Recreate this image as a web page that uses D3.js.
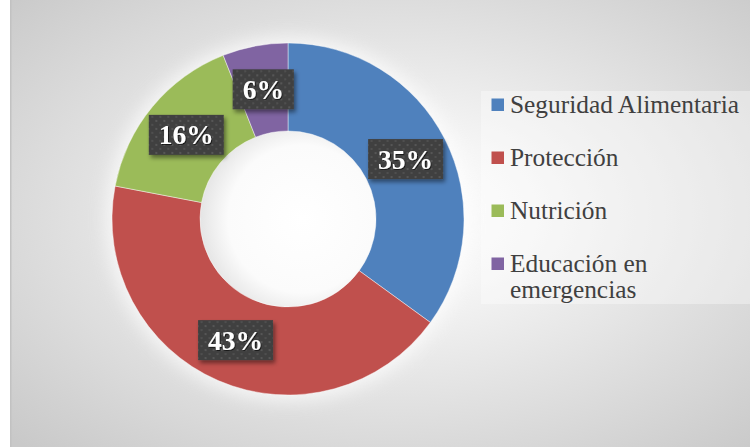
<!DOCTYPE html>
<html>
<head>
<meta charset="utf-8">
<script src="https://cdn.jsdelivr.net/npm/d3@7/dist/d3.min.js"></script>
<style>
  html, body { margin: 0; padding: 0; background: #ffffff; }
  svg { display: block; }
</style>
</head>
<body>
<svg id="chart" width="750" height="447"></svg>
<script>
const categories = ["Seguridad Alimentaria", "Protección", "Nutrición", "Educación en emergencias"];
const legendLines = [["Seguridad Alimentaria"], ["Protección"], ["Nutrición"], ["Educación en", "emergencias"]];
const values = [35, 43, 16, 6];
const labels = ["35%", "43%", "16%", "6%"];
const colors = ["#4F81BD", "#C0504D", "#9BBB59", "#8064A2"];

const W = 750, H = 447;
const svg = d3.select("#chart");
const defs = svg.append("defs");

// background gradient
const bg = defs.append("radialGradient").attr("id", "bgGrad")
  .attr("cx", "0.52").attr("cy", "0.48").attr("r", "0.72");
bg.append("stop").attr("offset", "0").attr("stop-color", "#ffffff");
bg.append("stop").attr("offset", "0.25").attr("stop-color", "#f5f5f5");
bg.append("stop").attr("offset", "1").attr("stop-color", "#c9c9c9");

const holeGrad = defs.append("radialGradient").attr("id", "holeGrad")
  .attr("cx", "0.58").attr("cy", "0.5").attr("r", "0.6");
holeGrad.append("stop").attr("offset", "0").attr("stop-color", "#ffffff");
holeGrad.append("stop").attr("offset", "0.7").attr("stop-color", "#fbfbfb");
holeGrad.append("stop").attr("offset", "1").attr("stop-color", "#e2e2e2");

const glow = defs.append("filter").attr("id", "glow").attr("x", "-30%").attr("y", "-30%").attr("width", "160%").attr("height", "160%");
glow.append("feGaussianBlur").attr("stdDeviation", 9);

const shadow = defs.append("filter").attr("id", "shadow").attr("x", "-20%").attr("y", "-20%").attr("width", "150%").attr("height", "160%");
shadow.append("feDropShadow").attr("dx", 2).attr("dy", 3).attr("stdDeviation", 2)
  .attr("flood-color", "#000").attr("flood-opacity", 0.45);

const textShadow = defs.append("filter").attr("id", "tshadow");
textShadow.append("feDropShadow").attr("dx", 1).attr("dy", 1).attr("stdDeviation", 0.6)
  .attr("flood-color", "#000").attr("flood-opacity", 0.6);

const pat = defs.append("pattern").attr("id", "dots").attr("patternUnits", "userSpaceOnUse")
  .attr("width", 8).attr("height", 8);
pat.append("rect").attr("width", 8).attr("height", 8).attr("fill", "#404040");
pat.append("rect").attr("x", 1).attr("y", 1).attr("width", 2).attr("height", 2).attr("fill", "#575757");
pat.append("rect").attr("x", 5).attr("y", 5).attr("width", 2).attr("height", 2).attr("fill", "#505050");

// chart area
svg.append("rect").attr("x", 0).attr("y", 0).attr("width", W).attr("height", H).attr("fill", "#ffffff");
svg.append("rect").attr("x", 10).attr("y", 0).attr("width", W - 10).attr("height", H).attr("fill", "url(#bgGrad)");
svg.append("rect").attr("x", 10).attr("y", 0).attr("width", 1.5).attr("height", H).attr("fill", "#c2c2c2");

const cx = 288, cy = 219, rOuter = 176, rInner = 88;
const g = svg.append("g").attr("transform", `translate(${cx},${cy})`);

// soft halo behind donut
g.append("circle").attr("r", rOuter + 6).attr("fill", "#ffffff").attr("opacity", 0.7).attr("filter", "url(#glow)");

const pie = d3.pie().sort(null).value(d => d)(values);
const arc = d3.arc().innerRadius(rInner).outerRadius(rOuter);
const labelArc = d3.arc().innerRadius((rInner + rOuter) / 2).outerRadius((rInner + rOuter) / 2);

g.append("circle").attr("r", rInner).attr("fill", "url(#holeGrad)");

g.selectAll("path.slice").data(pie).enter().append("path")
  .attr("class", "slice")
  .attr("d", arc)
  .attr("fill", (d, i) => colors[i])
  .attr("stroke", "#ffffff").attr("stroke-opacity", 0.55).attr("stroke-width", 0.8);

// data labels
const fontLabel = "'Liberation Serif', 'DejaVu Serif', serif";
const lab = g.selectAll("g.lab").data(pie).enter().append("g").attr("class", "lab")
  .attr("transform", d => { const c = labelArc.centroid(d); return `translate(${c[0]},${c[1]})`; });
lab.each(function(d, i) {
  const sel = d3.select(this);
  const t = sel.append("text")
    .attr("text-anchor", "middle").attr("dy", "0.35em")
    .attr("font-family", fontLabel).attr("font-weight", "bold").attr("font-size", 27.5)
    .attr("fill", "#ffffff").attr("filter", "url(#tshadow)")
    .text(labels[i]);
  const w = t.node().getComputedTextLength();
  const bw = w + 20, bh = 40;
  sel.insert("rect", "text")
    .attr("x", -bw / 2).attr("y", -bh / 2).attr("width", bw).attr("height", bh)
    .attr("fill", "url(#dots)").attr("filter", "url(#shadow)");
});

// legend
svg.append("rect").attr("x", 481).attr("y", 91).attr("width", W - 481).attr("height", 213)
  .attr("fill", "#ffffff").attr("opacity", 0.35);

const fontLegend = "'Liberation Serif', 'DejaVu Serif', serif";
const legendFs = 24.5;
const legend = svg.append("g");
const probe = legend.append("text").attr("font-family", fontLegend).attr("font-size", legendFs).text(categories[0]);
const pw = probe.node().getComputedTextLength();
probe.remove();
const sx = Math.max(0.8, Math.min(1.1, 229 / pw));

const rowY = d3.scalePoint().domain(categories).range([104.5, 263.5]);
categories.forEach((c, i) => {
  const y = rowY(c);
  legend.append("rect").attr("x", 491.5).attr("y", y - 6).attr("width", 12.5).attr("height", 12.5).attr("fill", colors[i]);
  legendLines[i].forEach((line, j) => {
    legend.append("text")
      .attr("transform", `translate(510,${y + 8 + j * 26}) scale(${sx},1)`)
      .attr("font-family", fontLegend).attr("font-size", legendFs).attr("fill", "#404040")
      .text(line);
  });
});
</script>
</body>
</html>
